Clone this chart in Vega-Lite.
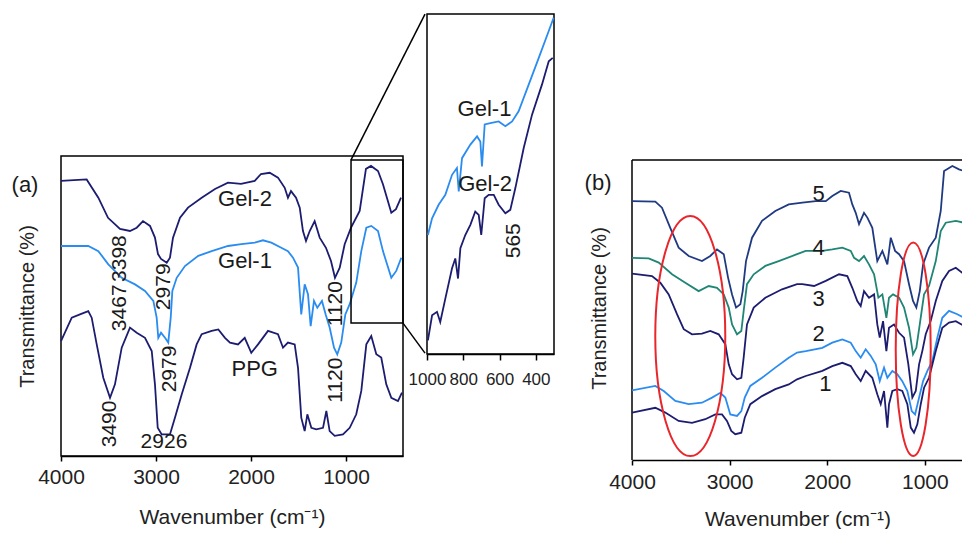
{
  "$schema": "https://vega.github.io/schema/vega-lite/v6.json",
  "padding": {"left": 10, "top": 12, "right": 0, "bottom": 0},
  "background": "white",
  "config": {
    "font": "Liberation Sans",
    "view": {"stroke": "#000", "strokeWidth": 1.5},
    "axis": {"grid": false, "labelFlush": false, "labelColor": "#222", "titleColor": "#222", "domainColor": "#000", "tickColor": "#000", "titleFontWeight": "normal", "labelFont": "Liberation Sans", "titleFont": "Liberation Sans"}
  },
  "datasets": {
    "a_gel2": [{"x":4000,"y":91.7},{"x":3730,"y":92.2},{"x":3607,"y":86.1},{"x":3505,"y":79.4},{"x":3379,"y":75.7},{"x":3274,"y":75},{"x":3203,"y":76.1},{"x":3137,"y":78.3},{"x":3063,"y":76.7},{"x":3011,"y":72.8},{"x":2979,"y":67.3},{"x":2947,"y":65.7},{"x":2887,"y":64.4},{"x":2853,"y":66.1},{"x":2821,"y":72.8},{"x":2747,"y":79.4},{"x":2663,"y":82.8},{"x":2519,"y":86.1},{"x":2379,"y":89},{"x":2242,"y":91.1},{"x":2105,"y":90.7},{"x":1961,"y":91.7},{"x":1895,"y":94},{"x":1803,"y":94.4},{"x":1716,"y":92.8},{"x":1645,"y":89.4},{"x":1611,"y":86.1},{"x":1579,"y":88.3},{"x":1526,"y":86.1},{"x":1487,"y":82.8},{"x":1453,"y":75},{"x":1421,"y":71.7},{"x":1382,"y":75},{"x":1330,"y":78.3},{"x":1277,"y":72.8},{"x":1211,"y":69.4},{"x":1158,"y":65},{"x":1116,"y":59.4},{"x":1066,"y":62.8},{"x":1014,"y":70.6},{"x":947,"y":76.1},{"x":856,"y":81.7},{"x":790,"y":95.7},{"x":737,"y":96.7},{"x":663,"y":95},{"x":611,"y":90.6},{"x":523,"y":81.1},{"x":474,"y":82.3},{"x":421,"y":86.1}],
    "a_gel1": [{"x":4000,"y":70},{"x":3713,"y":70},{"x":3607,"y":68.3},{"x":3502,"y":63.9},{"x":3361,"y":59.4},{"x":3221,"y":57.2},{"x":3116,"y":55},{"x":3028,"y":51.7},{"x":2993,"y":46.1},{"x":2976,"y":39.4},{"x":2947,"y":41.1},{"x":2905,"y":39.4},{"x":2871,"y":37.8},{"x":2845,"y":46.1},{"x":2828,"y":55},{"x":2782,"y":59.4},{"x":2695,"y":63.3},{"x":2555,"y":66.7},{"x":2414,"y":68.3},{"x":2242,"y":70},{"x":2102,"y":70.6},{"x":1961,"y":71.1},{"x":1874,"y":71.9},{"x":1786,"y":71.1},{"x":1681,"y":69.4},{"x":1611,"y":68.3},{"x":1558,"y":66.1},{"x":1505,"y":62.8},{"x":1471,"y":47.2},{"x":1435,"y":57.2},{"x":1400,"y":53.9},{"x":1372,"y":43.3},{"x":1337,"y":51.7},{"x":1302,"y":49.4},{"x":1253,"y":51.7},{"x":1214,"y":47.2},{"x":1172,"y":42.8},{"x":1126,"y":36.1},{"x":1092,"y":33.9},{"x":1050,"y":37.8},{"x":1007,"y":47.2},{"x":961,"y":50.6},{"x":892,"y":57.8},{"x":839,"y":68.3},{"x":786,"y":76.1},{"x":734,"y":76.7},{"x":663,"y":75},{"x":611,"y":68.3},{"x":523,"y":59.4},{"x":471,"y":61.7},{"x":418,"y":66.1}],
    "a_ppg": [{"x":4000,"y":38.3},{"x":3887,"y":46.1},{"x":3800,"y":47.2},{"x":3713,"y":48.3},{"x":3677,"y":46.1},{"x":3624,"y":37.2},{"x":3555,"y":26.1},{"x":3484,"y":19.4},{"x":3432,"y":23.9},{"x":3361,"y":36.1},{"x":3274,"y":42.8},{"x":3203,"y":41.1},{"x":3116,"y":39.4},{"x":3045,"y":35},{"x":3011,"y":23.9},{"x":2982,"y":9.4},{"x":2940,"y":7.2},{"x":2853,"y":7.2},{"x":2800,"y":12.8},{"x":2729,"y":20.6},{"x":2642,"y":29.4},{"x":2572,"y":37.2},{"x":2519,"y":40.6},{"x":2414,"y":41.7},{"x":2344,"y":42.2},{"x":2274,"y":39.4},{"x":2221,"y":37.8},{"x":2137,"y":37.2},{"x":2066,"y":39.4},{"x":1997,"y":34.4},{"x":1926,"y":37.2},{"x":1821,"y":41.7},{"x":1716,"y":40.6},{"x":1663,"y":36.1},{"x":1611,"y":37.8},{"x":1540,"y":37.2},{"x":1505,"y":29.4},{"x":1471,"y":12.8},{"x":1435,"y":8.3},{"x":1407,"y":13.9},{"x":1365,"y":9.4},{"x":1313,"y":8.9},{"x":1242,"y":9.4},{"x":1207,"y":15},{"x":1172,"y":8.3},{"x":1119,"y":6.7},{"x":1032,"y":7.2},{"x":961,"y":9.4},{"x":892,"y":13.9},{"x":839,"y":21.7},{"x":786,"y":37.2},{"x":734,"y":40},{"x":681,"y":33.9},{"x":629,"y":32.8},{"x":576,"y":23.9},{"x":523,"y":19.4},{"x":453,"y":18.3},{"x":411,"y":21.1}],
    "a_names": [{"x":2063,"y":85.8,"t":"Gel-2"},{"x":2063,"y":65,"t":"Gel-1"},{"x":1961,"y":29,"t":"PPG"},{"x":4379,"y":90.5,"t":"(a)"}],
    "a_flat": [{"x":2916,"y":4.7,"t":"2926"}],
    "a_rot": [{"x":3379,"y":65.8,"t":"3398"},{"x":3379,"y":49.4,"t":"3467"},{"x":2916,"y":56.4,"t":"2979"},{"x":2853,"y":29,"t":"2979"},{"x":3484,"y":10.7,"t":"3490"},{"x":1105,"y":50.8,"t":"1120"},{"x":1105,"y":25.3,"t":"1120"}],
    "a_box": [{"x":947,"x2":400,"y":44.3,"y2":98.7}],
    "a_links": [{"x":947,"y":98.7,"x2":168.4,"y2":147.3},{"x":400,"y":44.3,"x2":168.4,"y2":34.3}],
    "i_frame": [{"x":1000,"x2":300,"y":0,"y2":100}],
    "i_gel1": [{"x":995,"y":35},{"x":972,"y":39.9},{"x":936,"y":43.9},{"x":899,"y":46.8},{"x":862,"y":52.7},{"x":835,"y":54.7},{"x":825,"y":47.8},{"x":807,"y":57.6},{"x":761,"y":61.6},{"x":724,"y":64},{"x":706,"y":62.5},{"x":697,"y":55.2},{"x":682,"y":67.5},{"x":651,"y":67.9},{"x":605,"y":68.4},{"x":568,"y":67},{"x":531,"y":68.4},{"x":495,"y":71.4},{"x":439,"y":79.3},{"x":384,"y":87.1},{"x":329,"y":95},{"x":302,"y":98.9}],
    "i_gel2": [{"x":995,"y":4},{"x":972,"y":11.4},{"x":945,"y":12.4},{"x":927,"y":9.4},{"x":899,"y":16.3},{"x":862,"y":25.2},{"x":844,"y":28.1},{"x":829,"y":22.2},{"x":816,"y":31.1},{"x":789,"y":35},{"x":761,"y":38},{"x":734,"y":41.9},{"x":715,"y":40.9},{"x":701,"y":35},{"x":682,"y":45.8},{"x":660,"y":46.8},{"x":632,"y":46.8},{"x":605,"y":43.9},{"x":568,"y":41.4},{"x":541,"y":42.4},{"x":513,"y":48.8},{"x":467,"y":60.6},{"x":421,"y":70.4},{"x":366,"y":79.3},{"x":329,"y":86.1},{"x":307,"y":87.1}],
    "i_names": [{"x":683,"y":72.1,"t":"Gel-1"},{"x":680,"y":49.9,"t":"Gel-2"}],
    "i_rot": [{"x":520,"y":33.3,"t":"565"}],
    "b5": [{"x":4000,"y":86.3},{"x":3761,"y":86.1},{"x":3693,"y":84.1},{"x":3608,"y":77.4},{"x":3522,"y":70.8},{"x":3419,"y":68},{"x":3283,"y":66.3},{"x":3198,"y":68},{"x":3129,"y":70.2},{"x":3060,"y":68.6},{"x":3016,"y":60.8},{"x":2975,"y":55.2},{"x":2934,"y":50.8},{"x":2890,"y":51.9},{"x":2866,"y":56.3},{"x":2832,"y":66.3},{"x":2770,"y":74.1},{"x":2668,"y":79.7},{"x":2532,"y":83},{"x":2394,"y":85.2},{"x":2255,"y":85.8},{"x":2118,"y":86.3},{"x":2015,"y":86.3},{"x":1948,"y":88},{"x":1862,"y":89.7},{"x":1777,"y":89.1},{"x":1743,"y":85.2},{"x":1708,"y":82.4},{"x":1674,"y":78.6},{"x":1623,"y":82.4},{"x":1589,"y":80.8},{"x":1538,"y":77.4},{"x":1487,"y":66.3},{"x":1435,"y":69.7},{"x":1384,"y":65.2},{"x":1349,"y":74.1},{"x":1305,"y":69.7},{"x":1264,"y":68.6},{"x":1213,"y":66.3},{"x":1162,"y":58.6},{"x":1121,"y":53},{"x":1087,"y":50.8},{"x":1052,"y":56.3},{"x":1018,"y":65.2},{"x":957,"y":70.8},{"x":888,"y":74.1},{"x":837,"y":83},{"x":803,"y":96.3},{"x":718,"y":98},{"x":650,"y":96.9},{"x":598,"y":96.3}],
    "b4": [{"x":4000,"y":67.4},{"x":3829,"y":67.2},{"x":3726,"y":65.8},{"x":3590,"y":61.9},{"x":3454,"y":59.1},{"x":3317,"y":56.3},{"x":3214,"y":58},{"x":3129,"y":57.4},{"x":3060,"y":55.2},{"x":3009,"y":50.8},{"x":2975,"y":45.2},{"x":2924,"y":41.9},{"x":2880,"y":43},{"x":2856,"y":49.7},{"x":2822,"y":58.6},{"x":2753,"y":61.9},{"x":2634,"y":64.7},{"x":2497,"y":66.3},{"x":2309,"y":68.6},{"x":2220,"y":69.7},{"x":2050,"y":69.7},{"x":1948,"y":70.2},{"x":1845,"y":70.8},{"x":1759,"y":69.7},{"x":1725,"y":67.4},{"x":1674,"y":66.3},{"x":1623,"y":68},{"x":1572,"y":65.2},{"x":1520,"y":61.9},{"x":1476,"y":54.1},{"x":1435,"y":55.2},{"x":1394,"y":47.4},{"x":1367,"y":54.1},{"x":1326,"y":55.2},{"x":1264,"y":54.1},{"x":1213,"y":50.8},{"x":1162,"y":44.1},{"x":1121,"y":35.2},{"x":1087,"y":37.4},{"x":1052,"y":45.2},{"x":1008,"y":55.2},{"x":957,"y":58},{"x":888,"y":66.3},{"x":837,"y":76.3},{"x":786,"y":79.1},{"x":683,"y":79.7},{"x":598,"y":79.1}],
    "b3": [{"x":4000,"y":62.1},{"x":3795,"y":61.3},{"x":3710,"y":59.1},{"x":3624,"y":55.2},{"x":3539,"y":48.6},{"x":3470,"y":43.6},{"x":3385,"y":41.9},{"x":3283,"y":42.1},{"x":3198,"y":43},{"x":3112,"y":41.9},{"x":3044,"y":38.6},{"x":3009,"y":31.9},{"x":2975,"y":28.6},{"x":2924,"y":26.9},{"x":2880,"y":27.4},{"x":2856,"y":34.1},{"x":2822,"y":45.2},{"x":2753,"y":50.8},{"x":2634,"y":54.1},{"x":2463,"y":56.9},{"x":2309,"y":58.6},{"x":2255,"y":58.6},{"x":2135,"y":58},{"x":2015,"y":59.7},{"x":1879,"y":61.9},{"x":1794,"y":61.3},{"x":1743,"y":57.4},{"x":1692,"y":53},{"x":1657,"y":51.3},{"x":1623,"y":56.3},{"x":1572,"y":54.1},{"x":1520,"y":55.2},{"x":1487,"y":45.2},{"x":1462,"y":40.8},{"x":1428,"y":46.3},{"x":1394,"y":36.3},{"x":1367,"y":44.1},{"x":1316,"y":45.2},{"x":1264,"y":42.4},{"x":1213,"y":40.8},{"x":1169,"y":31.9},{"x":1128,"y":20.8},{"x":1093,"y":23},{"x":1059,"y":31.9},{"x":1026,"y":36.3},{"x":991,"y":41.9},{"x":940,"y":46.3},{"x":888,"y":53},{"x":821,"y":59.7},{"x":752,"y":63},{"x":683,"y":64.1},{"x":598,"y":61.9}],
    "b2": [{"x":4000,"y":23.2},{"x":3761,"y":24.7},{"x":3675,"y":23},{"x":3556,"y":19.7},{"x":3419,"y":18.6},{"x":3283,"y":19.1},{"x":3180,"y":20.8},{"x":3095,"y":22.4},{"x":3044,"y":20.8},{"x":2993,"y":15.2},{"x":2924,"y":14.7},{"x":2880,"y":16.3},{"x":2845,"y":20.8},{"x":2788,"y":24.7},{"x":2668,"y":27.4},{"x":2532,"y":30.8},{"x":2394,"y":34.1},{"x":2309,"y":35.8},{"x":2220,"y":36.3},{"x":2050,"y":37.4},{"x":1948,"y":39.1},{"x":1845,"y":40.2},{"x":1759,"y":39.1},{"x":1708,"y":36.3},{"x":1657,"y":34.1},{"x":1606,"y":36.9},{"x":1554,"y":34.7},{"x":1503,"y":31.9},{"x":1462,"y":26.3},{"x":1418,"y":30.8},{"x":1384,"y":27.4},{"x":1333,"y":29.7},{"x":1282,"y":28.6},{"x":1231,"y":26.3},{"x":1179,"y":23},{"x":1134,"y":16.3},{"x":1100,"y":15.2},{"x":1059,"y":20.8},{"x":1018,"y":26.3},{"x":974,"y":29.7},{"x":923,"y":33},{"x":872,"y":40.8},{"x":821,"y":47.4},{"x":752,"y":49.7},{"x":667,"y":48.6},{"x":598,"y":47.4}],
    "b1": [{"x":4000,"y":15.8},{"x":3761,"y":17.4},{"x":3659,"y":15.8},{"x":3522,"y":13},{"x":3385,"y":12.4},{"x":3249,"y":13.6},{"x":3147,"y":15.2},{"x":3078,"y":15.2},{"x":3027,"y":13},{"x":2983,"y":9.7},{"x":2942,"y":8.6},{"x":2880,"y":9.1},{"x":2845,"y":14.1},{"x":2788,"y":18.6},{"x":2668,"y":21.3},{"x":2532,"y":23.6},{"x":2394,"y":25.2},{"x":2309,"y":26.9},{"x":2220,"y":28},{"x":2050,"y":29.7},{"x":1948,"y":31.3},{"x":1845,"y":32.4},{"x":1759,"y":31.3},{"x":1708,"y":28.6},{"x":1657,"y":26.3},{"x":1606,"y":29.7},{"x":1538,"y":27.4},{"x":1487,"y":21.9},{"x":1452,"y":18.6},{"x":1418,"y":23},{"x":1384,"y":10.8},{"x":1367,"y":18.6},{"x":1333,"y":23},{"x":1282,"y":23.6},{"x":1231,"y":23},{"x":1179,"y":18.6},{"x":1144,"y":10.8},{"x":1111,"y":9.1},{"x":1077,"y":11.9},{"x":1042,"y":18.6},{"x":1008,"y":24.1},{"x":957,"y":27.4},{"x":888,"y":36.3},{"x":821,"y":44.1},{"x":752,"y":45.8},{"x":683,"y":46.3},{"x":598,"y":44.7}],
    "b_names": [{"x":2087,"y":88.6,"t":"5"},{"x":2087,"y":70.8,"t":"4"},{"x":2087,"y":53.6,"t":"3"},{"x":2087,"y":41.9,"t":"2"},{"x":2019,"y":25.2,"t":"1"},{"x":4348,"y":92.3,"t":"(b)"}],
    "b_top": [{"x":4000,"x2":609,"y":100}],
    "b_left": [{"x":4000,"y":0,"y2":100}],
    "b_ell1": [{"x":3403,"y":41.3}],
    "b_ell2": [{"x":1119,"y":36.9}]
  },
  "spacing": 26,
  "hconcat": [
    {
      "spacing": -44,
      "hconcat": [
        {
          "width": 342,
          "height": 300,
          "encoding": {
            "x": {"field": "x", "type": "quantitative", "scale": {"domain": [400, 4000], "reverse": true, "nice": false, "zero": false},
                  "axis": {"values": [4000, 3000, 2000, 1000], "format": "d", "labelFontSize": 21, "tickSize": 5, "tickWidth": 1.5, "domainWidth": 1.5, "labelPadding": 5, "title": "Wavenumber (cm⁻¹)", "titleFontSize": 21, "titlePadding": 19}},
            "y": {"field": "y", "type": "quantitative", "scale": {"domain": [0, 100], "nice": false, "zero": false},
                  "axis": {"title": "Transmittance (%)", "labels": false, "ticks": false, "domain": false, "titleFontSize": 20, "titlePadding": 24}}
          },
          "layer": [
            {"data": {"name": "a_gel2"}, "mark": {"type": "line", "color": "#1c1c70", "strokeWidth": 1.8}},
            {"data": {"name": "a_gel1"}, "mark": {"type": "line", "color": "#2a8cf0", "strokeWidth": 1.8}},
            {"data": {"name": "a_ppg"}, "mark": {"type": "line", "color": "#1c1c70", "strokeWidth": 1.8}},
            {"data": {"name": "a_box"}, "mark": {"type": "rect", "fillOpacity": 0, "stroke": "#000", "strokeWidth": 1.5},
             "encoding": {"x2": {"field": "x2"}, "y2": {"field": "y2"}}},
            {"data": {"name": "a_links"}, "mark": {"type": "rule", "color": "#000", "strokeWidth": 1.5},
             "encoding": {"x2": {"field": "x2"}, "y2": {"field": "y2"}}},
            {"data": {"name": "a_names"}, "mark": {"type": "text", "fontSize": 22, "color": "#1a1a1a", "align": "center", "baseline": "middle"},
             "encoding": {"text": {"field": "t"}}},
            {"data": {"name": "a_flat"}, "mark": {"type": "text", "fontSize": 21, "color": "#1a1a1a", "align": "center", "baseline": "middle"},
             "encoding": {"text": {"field": "t"}}},
            {"data": {"name": "a_rot"}, "mark": {"type": "text", "fontSize": 21, "angle": 270, "color": "#1a1a1a", "align": "center", "baseline": "middle"},
             "encoding": {"text": {"field": "t"}}}
          ]
        },
        {
          "width": 127,
          "height": 198,
          "view": {"stroke": null},
          "encoding": {
            "x": {"field": "x", "type": "quantitative", "scale": {"domain": [300, 1000], "reverse": true, "nice": false, "zero": false},
                  "axis": {"values": [1000, 800, 600, 400], "format": "d", "labelFontSize": 17, "labelOverlap": false, "labelBound": false, "tickSize": 6, "tickWidth": 1.5, "domainWidth": 1.5, "labelPadding": 11, "title": null}},
            "y": {"field": "y", "type": "quantitative", "scale": {"domain": [0, 58.235], "nice": false, "zero": false}, "axis": null}
          },
          "layer": [
            {"data": {"name": "i_frame"}, "mark": {"type": "rect", "fillOpacity": 0, "stroke": "#000", "strokeWidth": 1.5},
             "encoding": {"x2": {"field": "x2"}, "y2": {"field": "y2"}}},
            {"data": {"name": "i_gel1"}, "mark": {"type": "line", "color": "#2a8cf0", "strokeWidth": 1.8}},
            {"data": {"name": "i_gel2"}, "mark": {"type": "line", "color": "#1c1c70", "strokeWidth": 1.8}},
            {"data": {"name": "i_names"}, "mark": {"type": "text", "fontSize": 22, "color": "#1a1a1a", "align": "center", "baseline": "middle"},
             "encoding": {"text": {"field": "t"}}},
            {"data": {"name": "i_rot"}, "mark": {"type": "text", "fontSize": 21, "angle": 270, "color": "#1a1a1a", "align": "center", "baseline": "middle"},
             "encoding": {"text": {"field": "t"}}}
          ]
        }
      ]
    },
    {
      "width": 331,
      "height": 304,
      "view": {"stroke": null},
      "encoding": {
        "x": {"field": "x", "type": "quantitative", "scale": {"domain": [609, 4000], "reverse": true, "nice": false, "zero": false},
              "axis": {"values": [4000, 3000, 2000, 1000], "format": "d", "labelFontSize": 21, "tickSize": 5, "tickWidth": 1.5, "domainWidth": 1.5, "labelPadding": 6, "title": "Wavenumber (cm⁻¹)", "titleFontSize": 21, "titlePadding": 16}},
        "y": {"field": "y", "type": "quantitative", "scale": {"domain": [0, 101.333], "nice": false, "zero": false},
              "axis": {"title": "Transmittance (%)", "labels": false, "ticks": false, "domain": false, "titleFontSize": 20, "titlePadding": 23}}
      },
      "layer": [
        {"data": {"name": "b_top"}, "mark": {"type": "rule", "color": "#000", "strokeWidth": 1.5}, "encoding": {"x2": {"field": "x2"}}},
        {"data": {"name": "b_left"}, "mark": {"type": "rule", "color": "#000", "strokeWidth": 1.5}, "encoding": {"y2": {"field": "y2"}}},
        {"data": {"name": "b5"}, "mark": {"type": "line", "color": "#1f3a82", "strokeWidth": 1.8, "clip": true}},
        {"data": {"name": "b4"}, "mark": {"type": "line", "color": "#1f8575", "strokeWidth": 1.8, "clip": true}},
        {"data": {"name": "b3"}, "mark": {"type": "line", "color": "#1c1c70", "strokeWidth": 1.8, "clip": true}},
        {"data": {"name": "b2"}, "mark": {"type": "line", "color": "#2a8cf0", "strokeWidth": 1.8, "clip": true}},
        {"data": {"name": "b1"}, "mark": {"type": "line", "color": "#1c1c70", "strokeWidth": 1.8, "clip": true}},
        {"data": {"name": "b_ell1"}, "mark": {"type": "point", "filled": false, "opacity": 1, "stroke": "#e8262b", "strokeWidth": 2, "size": 57600,
          "shape": "M0,-1C0.1611,-1 0.2917,-0.5523 0.2917,0C0.2917,0.5523 0.1611,1 0,1C-0.1611,1 -0.2917,0.5523 -0.2917,0C-0.2917,-0.5523 -0.1611,-1 0,-1Z"}},
        {"data": {"name": "b_ell2"}, "mark": {"type": "point", "filled": false, "opacity": 1, "stroke": "#e8262b", "strokeWidth": 2, "size": 45540,
          "shape": "M0,-1C0.0906,-1 0.164,-0.5523 0.164,0C0.164,0.5523 0.0906,1 0,1C-0.0906,1 -0.164,0.5523 -0.164,0C-0.164,-0.5523 -0.0906,-1 0,-1Z"}},
        {"data": {"name": "b_names"}, "mark": {"type": "text", "fontSize": 22, "color": "#1a1a1a", "align": "center", "baseline": "middle"},
         "encoding": {"text": {"field": "t"}}}
      ]
    }
  ]
}
